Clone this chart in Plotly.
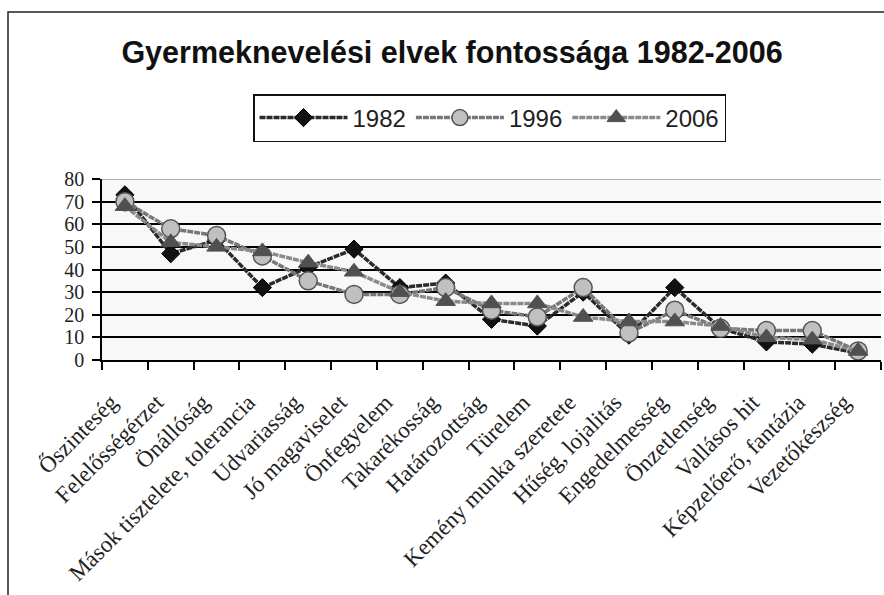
import plotly.graph_objects as go

categories = ["Őszinteség", "Felelősségérzet", "Önállóság", "Mások tisztelete, tolerancia",
              "Udvariasság", "Jó magaviselet", "Önfegyelem", "Takarékosság", "Határozottság",
              "Türelem", "Kemény munka szeretete", "Hűség, lojalitás", "Engedelmesség",
              "Önzetlenség", "Vallásos hit", "Képzelőerő, fantázia", "Vezetőkészség"]
v1982 = [73, 47, 53, 32, 41, 49, 32, 34, 18, 15, 30, 11, 32, 14, 8, 7, 3]
v1996 = [70, 58, 55, 46, 35, 29, 29, 32, 22, 19, 32, 12, 22, 14, 13, 13, 4]
v2006 = [68, 52, 50, 48, 43, 39, 30, 26, 25, 25, 19, 17, 17, 15, 10, 9, 4]
y_ticks = [0, 10, 20, 30, 40, 50, 60, 70, 80]

W, H = 884, 595
L, R, T, B = 102, 3, 179, 235

fig = go.Figure()
fig.add_trace(go.Scatter(
    x=categories, y=v1982, name="1982", mode="lines+markers",
    line=dict(color="#2a2a2a", width=3.5, dash="6px,1px"),
    marker=dict(symbol="diamond", size=14, color="#111111", line=dict(color="#000", width=1))))
fig.add_trace(go.Scatter(
    x=categories, y=v1996, name="1996", mode="lines+markers",
    line=dict(color="#777777", width=3.5, dash="6px,1px"),
    marker=dict(symbol="circle", size=18, color="#c0c0c0", line=dict(color="#555555", width=1.5))))
fig.add_trace(go.Scatter(
    x=categories, y=v2006, name="2006", mode="lines+markers",
    line=dict(color="#8a8a8a", width=3.5, dash="6px,1px"),
    marker=dict(symbol="triangle-up", size=17, color="#505050", line=dict(color="#505050", width=1))))

pw = W - L - R
ph = H - T - B
def px_x(x):
    return (x - L) / pw
def px_y(y):
    return (H - B - y) / ph

fig.add_shape(type="rect", xref="paper", yref="paper",
              x0=px_x(8), x1=px_x(892), y0=px_y(12), y1=px_y(605),
              line=dict(color="#222", width=1.5), fillcolor="rgba(0,0,0,0)", layer="below")

fig.update_layout(
    width=W, height=H,
    margin=dict(l=L, r=R, t=T, b=B),
    paper_bgcolor="white",
    plot_bgcolor="#f8f8f8",
    title=dict(text="<b>Gyermeknevelési elvek fontossága 1982-2006</b>",
               font=dict(family="Liberation Sans, Arial", size=30.5, color="#111"),
               x=452 / W, xref="container", xanchor="center",
               y=1 - 52 / H, yref="container", yanchor="middle"),
    legend=dict(orientation="h", x=px_x(489.5), xanchor="center", y=px_y(94), yanchor="top",
                bordercolor="#111", borderwidth=1.5, bgcolor="white",
                font=dict(family="Liberation Sans, Arial", size=24, color="#222"),
                itemwidth=88, tracegroupgap=0),
    showlegend=True,
    xaxis=dict(type="category", tickson="boundaries", ticks="outside", ticklen=8,
               tickcolor="#000", tickwidth=1.5, showline=True, linecolor="#000", linewidth=1.5,
               showgrid=False, tickangle=-45, automargin=False,
               tickfont=dict(family="Liberation Serif, Times New Roman", size=23, color="#222"),
               ticklabelshift=-14, ticklabelstandoff=18,
               range=[-0.5, len(categories) - 0.5]),
    yaxis=dict(range=[0, 80], tickvals=y_ticks, ticks="outside", ticklen=8, tickcolor="#000",
               tickwidth=1.5, showline=True, linecolor="#000", linewidth=1.5, automargin=False,
               showgrid=True, gridcolor="#000", gridwidth=1.5, zeroline=False,
               tickfont=dict(family="Liberation Serif, Times New Roman", size=20, color="#222"),
               ticklabelstandoff=4),
)
fig.add_shape(type="line", xref="paper", yref="y", x0=0, x1=1, y0=80, y1=80,
              line=dict(color="#999", width=1.5))

fig.write_html("out.html", config={"displayModeBar": False},
               post_script="document.body.style.margin='0';document.body.style.padding='0';")
